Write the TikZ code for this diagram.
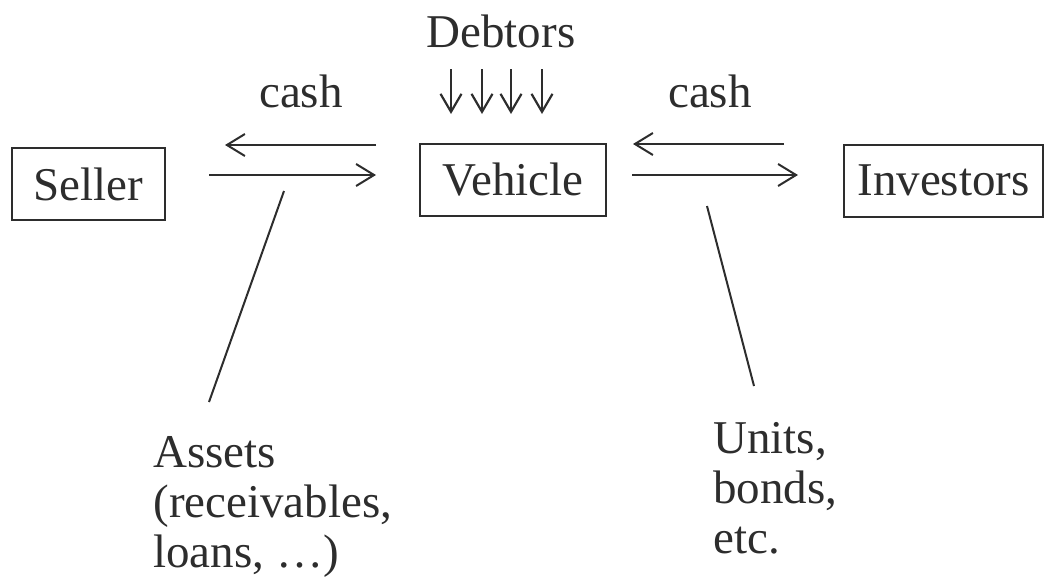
\documentclass[tikz,border=0pt]{standalone}
\usepackage{fontspec}
\setmainfont{Liberation Serif}
\usetikzlibrary{arrows.meta}
\definecolor{ink}{RGB}{45,45,45}
\begin{document}
\begin{tikzpicture}[x=0.5pt,y=-0.5pt,
  every node/.style={text=ink, font=\fontsize{23.5pt}{25pt}\selectfont},
  box/.style={draw=ink, line width=1pt, inner sep=0pt, minimum height=36pt},
  lbl/.style={inner sep=0pt, anchor=base},
  multi/.style={inner sep=0pt, anchor=north west, align=left},
  flow/.style={draw=ink, line width=1pt, -{Straight Barb[length=9pt,width=11pt,line width=1pt]}},
  debt/.style={draw=ink, line width=1.1pt, -{Straight Barb[length=9pt,width=10.5pt,line width=1.1pt]}},
  lead/.style={draw=ink, line width=1pt},
]
\useasboundingbox (0,0) rectangle (1045,579);

% boxes
\node[box, minimum width=76.5pt] (seller) at (88.5,184) {Seller};
\node[box, minimum width=93pt] (vehicle) at (513,180) {Vehicle};
\node[box, minimum width=99.5pt] (investors) at (943.5,180.5) {Investors};

% labels
\node[lbl] (debtors) at (501,47) {Debtors};
\node[lbl] (cashL) at (301,107) {cash};
\node[lbl] (cashR) at (710,107) {cash};
\node[multi] (assets) at (153,436) {Assets\\(receivables,\\loans, …)};
\node[multi] (units) at (713,422) {Units,\\bonds,\\etc.};

% seller <-> vehicle arrows
\coordinate (svA) at (376,145);
\coordinate (svB) at (225,145);
\coordinate (svC) at (209,175);
\coordinate (svD) at (376,175);
\draw[flow] (svA) -- (svB);
\draw[flow] (svC) -- (svD);

% vehicle <-> investors arrows
\coordinate (viA) at (784,144);
\coordinate (viB) at (633,144);
\coordinate (viC) at (632,175);
\coordinate (viD) at (798,175);
\draw[flow] (viA) -- (viB);
\draw[flow] (viC) -- (viD);

% debtor arrows
\foreach \i/\x in {1/451,2/482,3/511,4/542}{
  \coordinate (dt\i) at (\x,69);
  \coordinate (db\i) at (\x,114);
  \draw[debt] (dt\i) -- (db\i);
}

% leader lines
\coordinate (la) at (284,191);
\coordinate (lb) at (209,402);
\draw[lead] (la) -- (lb);
\coordinate (ua) at (707,206);
\coordinate (ub) at (754,386);
\draw[lead] (ua) -- (ub);
\end{tikzpicture}
\end{document}
